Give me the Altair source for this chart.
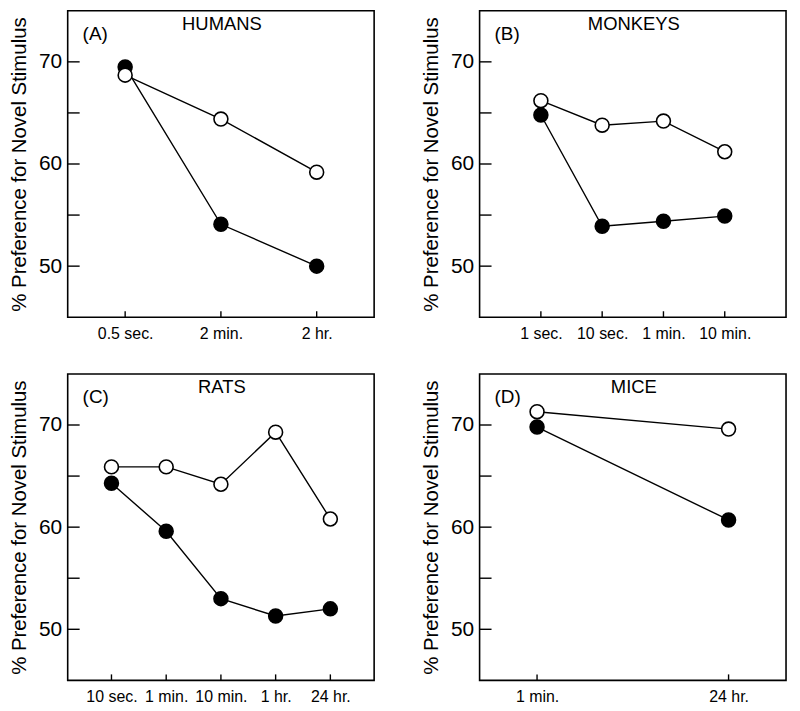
import altair as alt
import pandas as pd

# ---- data ----
letters = ["(A)", "(B)", "(C)", "(D)"]
species = ["HUMANS", "MONKEYS", "RATS", "MICE"]

humans_delays = ["0.5 sec.", "2 min.", "2 hr."]
humans_open = [68.7, 64.4, 59.2]
humans_closed = [69.5, 54.1, 50.0]

monkeys_delays = ["1 sec.", "10 sec.", "1 min.", "10 min."]
monkeys_open = [66.2, 63.8, 64.2, 61.2]
monkeys_closed = [64.8, 53.9, 54.4, 54.9]

rats_delays = ["10 sec.", "1 min.", "10 min.", "1 hr.", "24 hr."]
rats_open = [65.9, 65.9, 64.2, 69.3, 60.8]
rats_closed = [64.3, 59.6, 53.0, 51.3, 52.0]

mice_delays = ["1 min.", "24 hr."]
mice_open = [71.3, 69.6]
mice_closed = [69.8, 60.7]

y_tick_values = [50, 55, 60, 65, 70]
y_label_values = [50, 60, 70]
y_domain = [45, 75]
y_title = "% Preference for Novel Stimulus"

FONT = "Liberation Sans"
W = 308
H = 308


def panel(letter, name, delays, open_vals, closed_vals, pad, open_on_top):
    n = len(delays)
    df = pd.DataFrame({
        "delay": delays * 2,
        "value": open_vals + closed_vals,
        "group": ["open"] * n + ["closed"] * n,
    })
    xscale = alt.Scale(type="point", domain=delays, padding=pad)
    yscale = alt.Scale(domain=y_domain, nice=False, zero=False)
    xaxis = alt.Axis(title=None, labelAngle=0, ticks=False, domain=False,
                     grid=False, labelFontSize=16, labelPadding=8,
                     labelColor="black", labelFont=FONT)
    yaxis = alt.Axis(values=y_label_values, title=y_title, ticks=False,
                     domain=False, grid=False, labelFontSize=21,
                     labelPadding=6, labelColor="black", labelFont=FONT,
                     titleFontSize=20.5, titleFontWeight="normal",
                     titleColor="black", titleFont=FONT, titlePadding=9)
    x = alt.X("delay:N", scale=xscale, sort=delays, axis=xaxis)
    y = alt.Y("value:Q", scale=yscale, axis=yaxis)

    # inward tick marks
    yt = alt.Chart(pd.DataFrame({"value": y_tick_values})).mark_rule(
        color="black", strokeWidth=1.4
    ).encode(y=y, x=alt.value(0), x2=alt.value(12))
    xt = alt.Chart(pd.DataFrame({"delay": delays})).mark_rule(
        color="black", strokeWidth=1.4
    ).encode(x=x, y=alt.value(H), y2=alt.value(H - 6))

    lines = alt.Chart(df).mark_line(color="black", strokeWidth=1.4).encode(
        x=x, y=y, detail="group:N")
    p_open = alt.Chart(df[df.group == "open"]).mark_circle(
        size=195, fill="white", stroke="black", strokeWidth=1.6, opacity=1
    ).encode(x=x, y=y)
    p_closed = alt.Chart(df[df.group == "closed"]).mark_circle(
        size=195, fill="black", stroke="black", strokeWidth=1.6, opacity=1
    ).encode(x=x, y=y)
    pts = [p_closed, p_open] if open_on_top else [p_open, p_closed]

    lab = alt.Chart(pd.DataFrame({"t": [letter]})).mark_text(
        font=FONT, fontSize=19, align="left", baseline="middle", color="black"
    ).encode(text="t:N", x=alt.value(15), y=alt.value(23))
    ttl = alt.Chart(pd.DataFrame({"t": [name]})).mark_text(
        font=FONT, fontSize=18.5, align="center", baseline="middle", color="black"
    ).encode(text="t:N", x=alt.value(W / 2 + 1), y=alt.value(13))

    return alt.layer(lines, yt, xt, *pts, lab, ttl).properties(width=W, height=H)


a = panel(letters[0], species[0], humans_delays, humans_open, humans_closed, 0.6, True)
b = panel(letters[1], species[1], monkeys_delays, monkeys_open, monkeys_closed, 1.28, False)
c = panel(letters[2], species[2], rats_delays, rats_open, rats_closed, 0.8, False)
d = panel(letters[3], species[3], mice_delays, mice_open, mice_closed, 0.3, True)

chart = alt.concat(
    a, b, c, d, columns=2,
    spacing={"row": 57, "column": 106},
    bounds="flush",
).properties(
    padding={"left": 0, "top": 0, "right": 5, "bottom": 5}
).configure(
    font=FONT, background="white"
).configure_view(
    stroke="black", strokeWidth=1.6
)

chart.save("out.html", embed_options={"renderer": "svg", "actions": False})
